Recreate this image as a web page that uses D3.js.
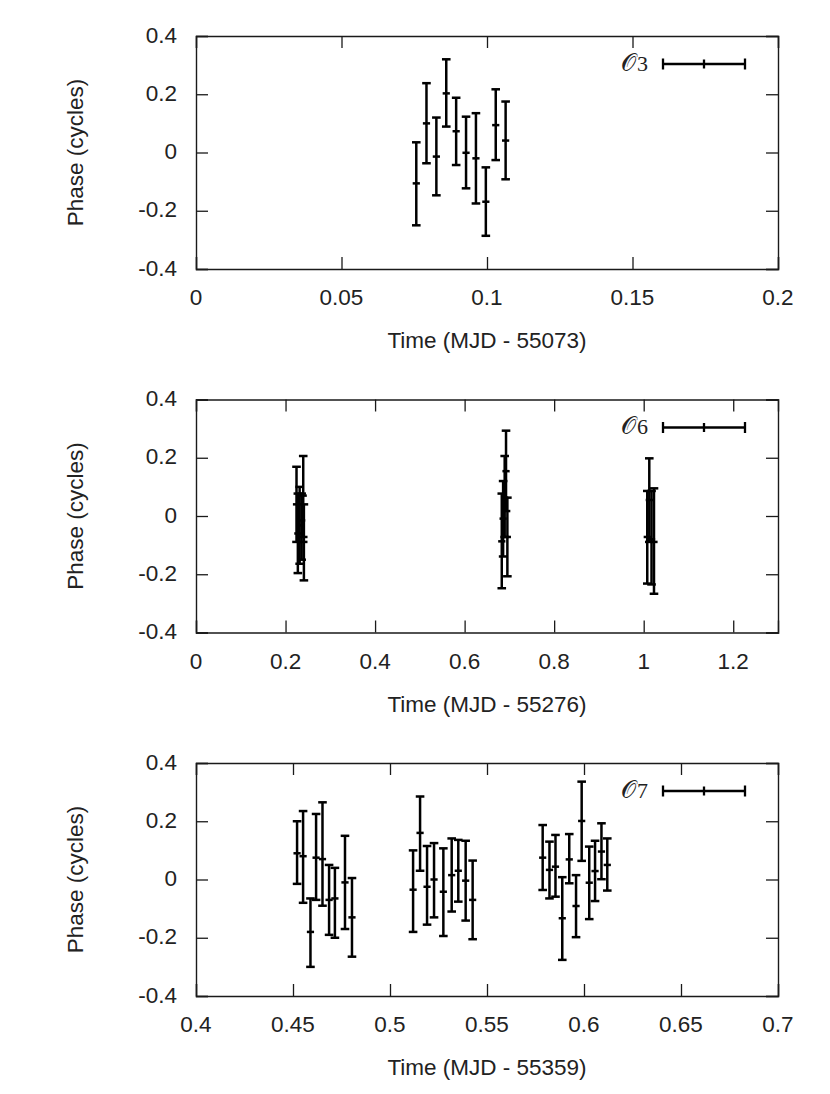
<!DOCTYPE html>
<html><head><meta charset="utf-8">
<script src="https://cdn.jsdelivr.net/npm/d3@7"></script>
<style>body{margin:0;background:#fff}svg{display:block}</style>
</head><body>
<script>
// ---------- data ----------
const yTicks = [-0.4, -0.2, 0, 0.2, 0.4];
const yTitle = "Phase (cycles)";

// Panel O3
const o3Time  = [0.0757, 0.0792, 0.0826, 0.0860, 0.0894, 0.0928, 0.0962, 0.0996, 0.1030, 0.1064];
const o3Phase = [-0.106, 0.100, -0.014, 0.203, 0.073, -0.001, -0.020, -0.169, 0.094, 0.041];
const o3Low   = [-0.250, -0.037, -0.147, 0.089, -0.043, -0.123, -0.175, -0.286, -0.026, -0.092];
const o3High  = [0.035, 0.238, 0.120, 0.320, 0.188, 0.123, 0.135, -0.051, 0.217, 0.175];
const o3XDomain = [0, 0.2];
const o3XTicks = [0, 0.05, 0.1, 0.15, 0.2];
const o3XTitle = "Time (MJD - 55073)";
const o3Label = "3";

// Panel O6
const o6Time  = [0.2245, 0.2275, 0.2315, 0.2360, 0.2395, 0.2410,
                 0.6830, 0.6860, 0.6895, 0.6925, 0.6955,
                 1.0080, 1.0125, 1.0175, 1.0230];
const o6Phase = [0.040, -0.060, -0.032, -0.015, 0.070, -0.089,
                 -0.087, -0.009, 0.063, 0.154, -0.072,
                 -0.072, 0.055, -0.080, -0.089];
const o6Low   = [-0.089, -0.196, -0.164, -0.150, -0.072, -0.221,
                 -0.248, -0.139, -0.072, 0.017, -0.207,
                 -0.232, -0.089, -0.235, -0.267];
const o6High  = [0.169, 0.077, 0.100, 0.077, 0.206, 0.040,
                 0.077, 0.120, 0.206, 0.293, 0.063,
                 0.086, 0.198, 0.086, 0.095];
const o6XDomain = [0, 1.3];
const o6XTicks = [0, 0.2, 0.4, 0.6, 0.8, 1, 1.2];
const o6XTitle = "Time (MJD - 55276)";
const o6Label = "6";

// Panel O7
const o7Time  = [0.4521, 0.4552, 0.4590, 0.4619, 0.4652, 0.4686, 0.4716, 0.4768, 0.4804,
                 0.5119, 0.5155, 0.5191, 0.5227, 0.5275, 0.5318, 0.5352, 0.5390, 0.5426,
                 0.5787, 0.5822, 0.5853, 0.5888, 0.5924, 0.5959, 0.5988, 0.6027, 0.6057, 0.6090, 0.6120];
const o7Phase = [0.090, 0.080, -0.180, 0.075, 0.070, -0.070, -0.065, -0.010, -0.130,
                 -0.035, 0.160, -0.025, 0.000, -0.042, 0.015, 0.030, -0.004, -0.070,
                 0.075, 0.033, 0.044, -0.133, 0.069, -0.091, 0.201, -0.011, 0.029, 0.096, 0.050];
const o7Low   = [-0.015, -0.080, -0.300, -0.070, -0.090, -0.190, -0.200, -0.170, -0.265,
                 -0.180, 0.030, -0.155, -0.130, -0.194, -0.110, -0.076, -0.141, -0.205,
                 -0.036, -0.065, -0.059, -0.276, -0.013, -0.198, 0.064, -0.136, -0.074, 0.001, -0.038];
const o7High  = [0.200, 0.235, -0.065, 0.225, 0.265, 0.050, 0.040, 0.150, 0.005,
                 0.100, 0.285, 0.115, 0.125, 0.107, 0.141, 0.136, 0.133, 0.065,
                 0.187, 0.130, 0.153, 0.008, 0.156, 0.015, 0.336, 0.113, 0.133, 0.193, 0.141];
const o7XDomain = [0.4, 0.7];
const o7XTicks = [0.4, 0.45, 0.5, 0.55, 0.6, 0.65, 0.7];
const o7XTitle = "Time (MJD - 55359)";
const o7Label = "7";

// ---------- drawing ----------
const W = 830, H = 1094;
const svg = d3.select("body").append("svg").attr("width", W).attr("height", H);
svg.append("rect").attr("width", W).attr("height", H).attr("fill", "#fff");

const left = 196, right = 778, plotH = 233;
const panelTops = [36, 399.5, 763];
const sansFont = "'Liberation Sans', Arial, Helvetica, sans-serif";
const fs = 22.5;

function drawPanel(top, time, phase, lo, hi, xDomain, xTicks, xTitle, label) {
  const g = svg.append("g");
  const x = d3.scaleLinear().domain(xDomain).range([left, right]);
  const y = d3.scaleLinear().domain([-0.4, 0.4]).range([top + plotH, top]);
  const fmt = d => String(+d.toFixed(3));

  // axes (ticks inward, mirrored)
  const ax = [
    d3.axisBottom(x).tickValues(xTicks).tickSize(-12).tickFormat(""),
    d3.axisTop(x).tickValues(xTicks).tickSize(-12).tickFormat(""),
    d3.axisLeft(y).tickValues(yTicks).tickSize(-12).tickFormat(""),
    d3.axisRight(y).tickValues(yTicks).tickSize(-12).tickFormat("")
  ];
  const tr = [`translate(0,${top + plotH})`, `translate(0,${top})`, `translate(${left},0)`, `translate(${right},0)`];
  ax.forEach((a, i) => {
    const ag = g.append("g").attr("transform", tr[i]).call(a);
    ag.selectAll("path,line").attr("stroke", "#1a1a1a").attr("stroke-width", 1.3);
    ag.select(".domain").attr("stroke-width", 1.4);
    ag.selectAll("text").remove();
  });

  // tick labels
  g.selectAll(".xl").data(xTicks).enter().append("text")
    .attr("x", d => x(d)).attr("y", top + plotH + 36)
    .attr("text-anchor", "middle").attr("font-family", sansFont).attr("font-size", fs)
    .attr("fill", "#222").text(fmt);
  g.selectAll(".yl").data(yTicks).enter().append("text")
    .attr("x", 177).attr("y", d => y(d) + 6.5)
    .attr("text-anchor", "end").attr("font-family", sansFont).attr("font-size", fs)
    .attr("fill", "#222").text(fmt);

  // titles
  g.append("text").attr("x", (left + right) / 2).attr("y", top + plotH + 79)
    .attr("text-anchor", "middle").attr("font-family", sansFont).attr("font-size", fs)
    .attr("fill", "#222").text(xTitle);
  g.append("text").attr("transform", `translate(83,${top + plotH / 2}) rotate(-90)`)
    .attr("text-anchor", "middle").attr("font-family", sansFont).attr("font-size", fs)
    .attr("fill", "#222").text(yTitle);

  // error bars
  const idx = d3.range(time.length);
  const eb = g.append("g").attr("stroke", "#000").attr("stroke-width", 2.5).attr("fill", "none");
  const capW = 4.3, midW = 3.6;
  idx.forEach(i => {
    const cx = x(time[i]);
    eb.append("line").attr("x1", cx).attr("x2", cx).attr("y1", y(lo[i])).attr("y2", y(hi[i]));
    eb.append("line").attr("x1", cx - capW).attr("x2", cx + capW).attr("y1", y(lo[i])).attr("y2", y(lo[i]));
    eb.append("line").attr("x1", cx - capW).attr("x2", cx + capW).attr("y1", y(hi[i])).attr("y2", y(hi[i]));
    eb.append("line").attr("x1", cx - midW).attr("x2", cx + midW).attr("y1", y(phase[i])).attr("y2", y(phase[i]));
  });

  // legend
  const ly = top + 28;
  const lg = g.append("g");
  const lt = lg.append("text").attr("x", 648).attr("y", top + 34.5)
    .attr("text-anchor", "end").attr("font-size", 22).attr("fill", "#222");
  lt.append("tspan").attr("font-family", "'DejaVu Serif', serif").attr("font-size", 24).text("\u{1D4AA}");
  lt.append("tspan").attr("font-family", "'Liberation Serif', 'DejaVu Serif', serif").attr("dx", 1.5).text(label);
  const ls = lg.append("g").attr("stroke", "#000").attr("stroke-width", 2.3);
  ls.append("line").attr("x1", 663).attr("x2", 745).attr("y1", ly).attr("y2", ly);
  ls.append("line").attr("x1", 663).attr("x2", 663).attr("y1", ly - 5.5).attr("y2", ly + 5.5);
  ls.append("line").attr("x1", 745).attr("x2", 745).attr("y1", ly - 5.5).attr("y2", ly + 5.5);
  ls.append("line").attr("x1", 704).attr("x2", 704).attr("y1", ly - 4.5).attr("y2", ly + 4.5);
}

drawPanel(panelTops[0], o3Time, o3Phase, o3Low, o3High, o3XDomain, o3XTicks, o3XTitle, o3Label);
drawPanel(panelTops[1], o6Time, o6Phase, o6Low, o6High, o6XDomain, o6XTicks, o6XTitle, o6Label);
drawPanel(panelTops[2], o7Time, o7Phase, o7Low, o7High, o7XDomain, o7XTicks, o7XTitle, o7Label);
</script>
</body></html>
